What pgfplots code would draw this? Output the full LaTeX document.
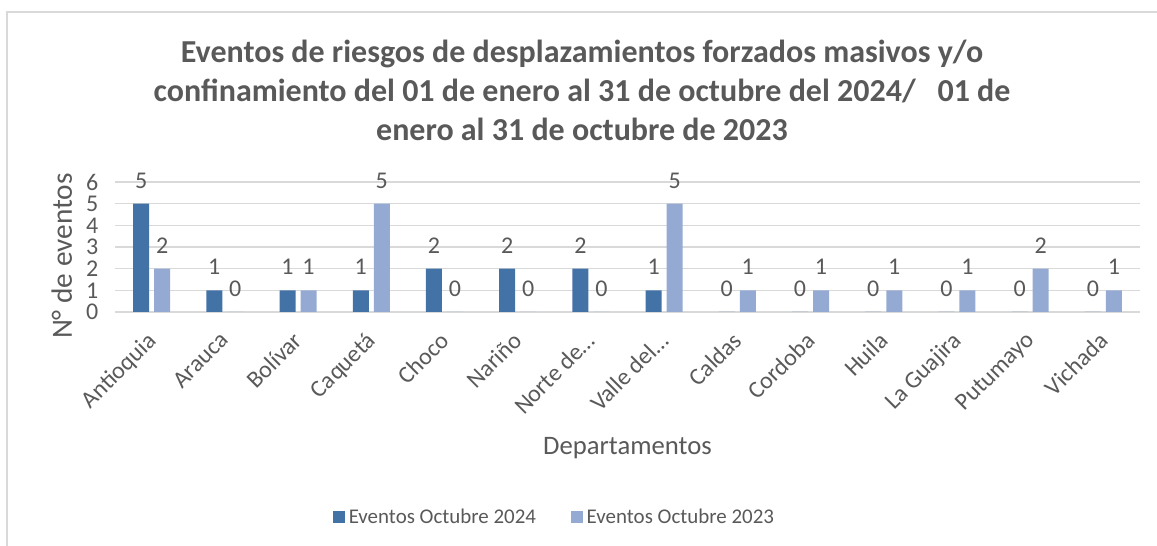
\documentclass[border=0pt]{standalone}
\usepackage{pgfplots}
\pgfplotsset{compat=1.18}
\usepackage{fontspec}
\setmainfont{Carlito}
\definecolor{serA}{RGB}{67,114,167}
\definecolor{serB}{RGB}{149,170,211}
\definecolor{txt}{RGB}{89,89,89}
\definecolor{grd}{RGB}{217,217,217}

\begin{document}
\begin{tikzpicture}
  % canvas in pixel units (y measured up from bottom)
  \begin{scope}[x=0.75pt,y=0.75pt]
    \path[use as bounding box] (0,0) rectangle (1157,546);
    \draw[grd, line width=1.5pt] (7,0) -- (7,534) -- (1157,534);
    \node[text=txt, font=\bfseries\fontsize{24}{29.3}\selectfont, align=center]
      at (582,456) {Eventos de riesgos de desplazamientos forzados masivos y/o\\
      confinamiento del 01 de enero al 31 de octubre del 2024/\ \ \ 01 de\\
      enero al 31 de octubre de 2023};
    \coordinate (O) at (115,234);
  \end{scope}
  \begin{axis}[
      at={(O)}, anchor=south west,
      scale only axis,
      width=768.75pt, height=97.5pt,
      ybar=3.75pt,
      bar width=12pt,
      xmin=-0.5, xmax=13.5,
      ymin=0, ymax=6,
      xtick=data,
      xticklabels={Antioquia, Arauca, Bolívar, Caquetá, Choco, Nariño, {Norte de…}, {Valle del…}, Caldas, Cordoba, Huila, La Guajira, Putumayo, Vichada},
      % shifts act in the rotated frame of the label
      xticklabel style={rotate=45, anchor=north east, xshift=-9.5pt, yshift=-3.15pt, font=\fontsize{18}{19}\selectfont, text=txt},
      ytick={0,1,2,3,4,5,6},
      yticklabel style={font=\fontsize{18}{19}\selectfont, text=txt, xshift=-9pt},
      /pgf/number format/assume math mode=true,
      major tick length=0pt,
      axis line style={draw=none},
      ymajorgrids,
      grid style={grd, line width=0.9pt},
      ylabel={N° de eventos},
      ylabel style={font=\fontsize{22}{24}\selectfont, text=txt, at={(axis description cs:-0.052,0.43)}, anchor=center},
      xlabel={Departamentos},
      xlabel style={font=\fontsize{20}{22}\selectfont, text=txt, at={(axis description cs:0.5,-1.05)}, anchor=center},
      nodes near coords,
      every node near coord/.append style={font=\fontsize{18}{19}\selectfont, text=txt, yshift=8pt},
      legend style={at={(axis description cs:0.429,-1.577)}, anchor=center, draw=none, legend columns=-1,
        font=\fontsize{15.7}{17}\selectfont, text=txt,
        /tikz/every even column/.append style={column sep=24pt},
        /tikz/every odd column/.append style={column sep=1pt}},
      legend image code/.code={\fill[#1] (0pt,-4.5pt) rectangle (9pt,4.5pt);},
    ]
    \addplot[fill=serA, draw=none] coordinates {(0,5) (1,1) (2,1) (3,1) (4,2) (5,2) (6,2) (7,1) (8,0) (9,0) (10,0) (11,0) (12,0) (13,0)};
    \addplot[fill=serB, draw=none] coordinates {(0,2) (1,0) (2,1) (3,5) (4,0) (5,0) (6,0) (7,5) (8,1) (9,1) (10,1) (11,1) (12,2) (13,1)};
    \legend{Eventos Octubre 2024, Eventos Octubre 2023}
  \end{axis}
\end{tikzpicture}
\end{document}
